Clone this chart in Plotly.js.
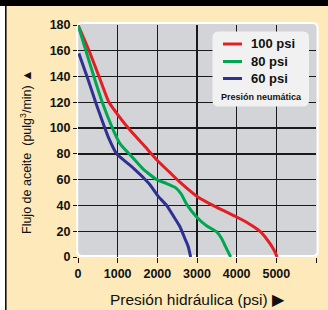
<!DOCTYPE html>
<html>
<head>
<meta charset="utf-8">
<script src="https://cdn.plot.ly/plotly-3.0.1.min.js"></script>
<style>html,body{margin:0;padding:0;background:#fde9ba;}#chart{width:328px;height:310px;}</style>
</head>
<body>
<div id="chart"></div>
<script>
// ---- data ----
const seriesNames = ['100 psi', '80 psi', '60 psi'];
const seriesColors = ['#e31e24', '#00a651', '#2e3192'];

const pressure100 = [0, 280, 530, 781, 1000, 1310, 1650, 1982, 2300, 2570, 3000, 3500, 4000, 4300, 4584, 4780, 4930, 5020];
const flow100     = [180, 160, 140, 120, 110.5, 98.5, 87, 75.5, 66, 58, 47, 38.5, 31, 26, 20, 13, 6, 0];

const pressure80 = [0, 200, 400, 612, 890, 1058, 1393, 1650, 1850, 1982, 2234, 2450, 2600, 2738, 2990, 3250, 3493, 3617, 3720, 3800, 3850];
const flow80     = [180, 160, 140, 120, 98.5, 88, 76.6, 68, 63, 60, 57, 54, 49, 41, 31, 24, 19.6, 14.5, 8, 3, 0];

const pressure60 = [20, 234, 445, 554, 764, 975, 1200, 1393, 1600, 1814, 2023, 2234, 2400, 2570, 2700, 2780, 2840];
const flow60     = [158, 139.5, 120, 110.5, 93, 80, 74, 69, 63, 56, 47, 40, 32, 23.5, 14, 8, 0];

const xTicks = [0, 1000, 2000, 3000, 4000, 5000, 6000];
const yTicks = [0, 20, 40, 60, 80, 100, 120, 140, 160, 180];
const xGrid = [1000, 2000, 3000, 4000, 5000];
const yGrid = [20, 40, 60, 80, 100, 120, 140, 160];

const xTitle = 'Presión hidráulica (psi) ▶';
const yTitle = 'Flujo de aceite  (pulg<sup>3</sup>/min) ▲';
const legendTitle = 'Presión neumática';

// ---- layout helpers (pixel -> paper) ----
const L = 78, T = 25, W = 238, H = 232;
const px = p => (p - L) / W;
const py = p => (T + H - p) / H;
function rr(x0, y0, x1, y1, r) {
  return 'M' + px(x0 + r) + ',' + py(y0) +
    ' L' + px(x1 - r) + ',' + py(y0) +
    ' Q' + px(x1) + ',' + py(y0) + ' ' + px(x1) + ',' + py(y0 + r) +
    ' L' + px(x1) + ',' + py(y1 - r) +
    ' Q' + px(x1) + ',' + py(y1) + ' ' + px(x1 - r) + ',' + py(y1) +
    ' L' + px(x0 + r) + ',' + py(y1) +
    ' Q' + px(x0) + ',' + py(y1) + ' ' + px(x0) + ',' + py(y1 - r) +
    ' L' + px(x0) + ',' + py(y0 + r) +
    ' Q' + px(x0) + ',' + py(y0) + ' ' + px(x0 + r) + ',' + py(y0) + ' Z';
}

const FN = '"Liberation Sans Narrow", "Arial Narrow", "Liberation Sans", Arial, sans-serif';

const xs = [pressure100, pressure80, pressure60];
const ys = [flow100, flow80, flow60];
const traces = xs.map((x, i) => ({
  x: x, y: ys[i], type: 'scatter', mode: 'lines', name: seriesNames[i],
  line: {color: seriesColors[i], width: 3, shape: 'spline', smoothing: 0.5},
  showlegend: false, hoverinfo: 'skip', cliponaxis: false
}));
// carrier for the grid-only overlay axes
traces.push({x: [], y: [], xaxis: 'x2', yaxis: 'y2', type: 'scatter', mode: 'lines', showlegend: false, hoverinfo: 'skip'});

const shapes = [
  // top black bar, left frame
  {type: 'rect', xref: 'paper', yref: 'paper', x0: px(0), x1: px(328), y0: py(0), y1: py(6), fillcolor: '#000', line: {width: 0}, layer: 'below'},
  {type: 'rect', xref: 'paper', yref: 'paper', x0: px(0), x1: px(5), y0: py(6), y1: py(310), fillcolor: '#ffffff', line: {width: 0}, layer: 'below'},
  {type: 'rect', xref: 'paper', yref: 'paper', x0: px(5), x1: px(6.6), y0: py(6), y1: py(310), fillcolor: '#111', line: {width: 0}, layer: 'below'},
  // grey plot panel with white rim
  {type: 'path', xref: 'paper', yref: 'paper', path: rr(77.2, 23, 317.6, 256, 5), fillcolor: '#d3d4d7', line: {color: '#ffffff', width: 2}, layer: 'below'},
  // legend box
  {type: 'path', xref: 'paper', yref: 'paper', path: rr(212.5, 31.5, 309, 106.5, 6), fillcolor: '#f1f1f2', line: {width: 0}, layer: 'above'}
];
const legendY = [44, 61.5, 78.5];
legendY.forEach((yy, i) => {
  shapes.push({type: 'line', xref: 'paper', yref: 'paper', x0: px(223), x1: px(242), y0: py(yy), y1: py(yy), line: {color: seriesColors[i], width: 3}, layer: 'above'});
});

const annotations = [
  {text: yTitle, xref: 'paper', yref: 'paper', x: px(26), y: py(152), xanchor: 'center', yanchor: 'middle', textangle: -90, showarrow: false, font: {family: FN, size: 12.5, color: '#111'}},
  {text: xTitle, xref: 'paper', yref: 'paper', x: px(197), y: py(299), xanchor: 'center', yanchor: 'middle', showarrow: false, font: {family: FN, size: 15.5, color: '#111'}},
  {text: legendTitle, xref: 'paper', yref: 'paper', x: px(261), y: py(96.5), xanchor: 'center', yanchor: 'middle', showarrow: false, font: {family: FN, size: 9, color: '#111', weight: 'bold'}}
];
legendY.forEach((yy, i) => {
  annotations.push({text: seriesNames[i], xref: 'paper', yref: 'paper', x: px(249), y: py(yy), xanchor: 'left', yanchor: 'middle', showarrow: false, font: {family: FN, size: 13, color: '#111', weight: 'bold'}});
});

const tickFont = {family: FN, size: 12.5, color: '#111', weight: 'bold'};
const layout = {
  width: 328, height: 310,
  margin: {l: L, r: 328 - L - W, t: T, b: 310 - T - H, pad: 0},
  paper_bgcolor: '#fde9ba', plot_bgcolor: 'rgba(0,0,0,0)',
  showlegend: false,
  xaxis: {range: [0, 6000], tickmode: 'array', tickvals: xTicks, ticktext: xTicks.map(String),
    showgrid: false, zeroline: false, showline: false, ticks: 'outside', ticklen: 5, tickwidth: 1, tickcolor: '#111',
    tickfont: tickFont, fixedrange: true},
  yaxis: {range: [0, 180], tickmode: 'array', tickvals: yTicks, ticktext: yTicks.map(String),
    showgrid: false, zeroline: false, showline: false, ticks: 'outside', ticklen: 4, tickwidth: 1, tickcolor: '#111',
    tickfont: tickFont, fixedrange: true},
  xaxis2: {overlaying: 'x', matches: 'x', range: [0, 6000], tickmode: 'array', tickvals: xGrid, showticklabels: false, ticks: '',
    showgrid: true, gridcolor: '#1a1a1a', gridwidth: 1.4, zeroline: false, showline: false},
  yaxis2: {overlaying: 'y', range: [0, 180], tickmode: 'array', tickvals: yGrid, showticklabels: false, ticks: '',
    showgrid: true, gridcolor: '#1a1a1a', gridwidth: 1.4, zeroline: false, showline: false},
  shapes: shapes,
  annotations: annotations
};
Plotly.newPlot('chart', traces, layout, {staticPlot: true, displayModeBar: false});
</script>
</body>
</html>
